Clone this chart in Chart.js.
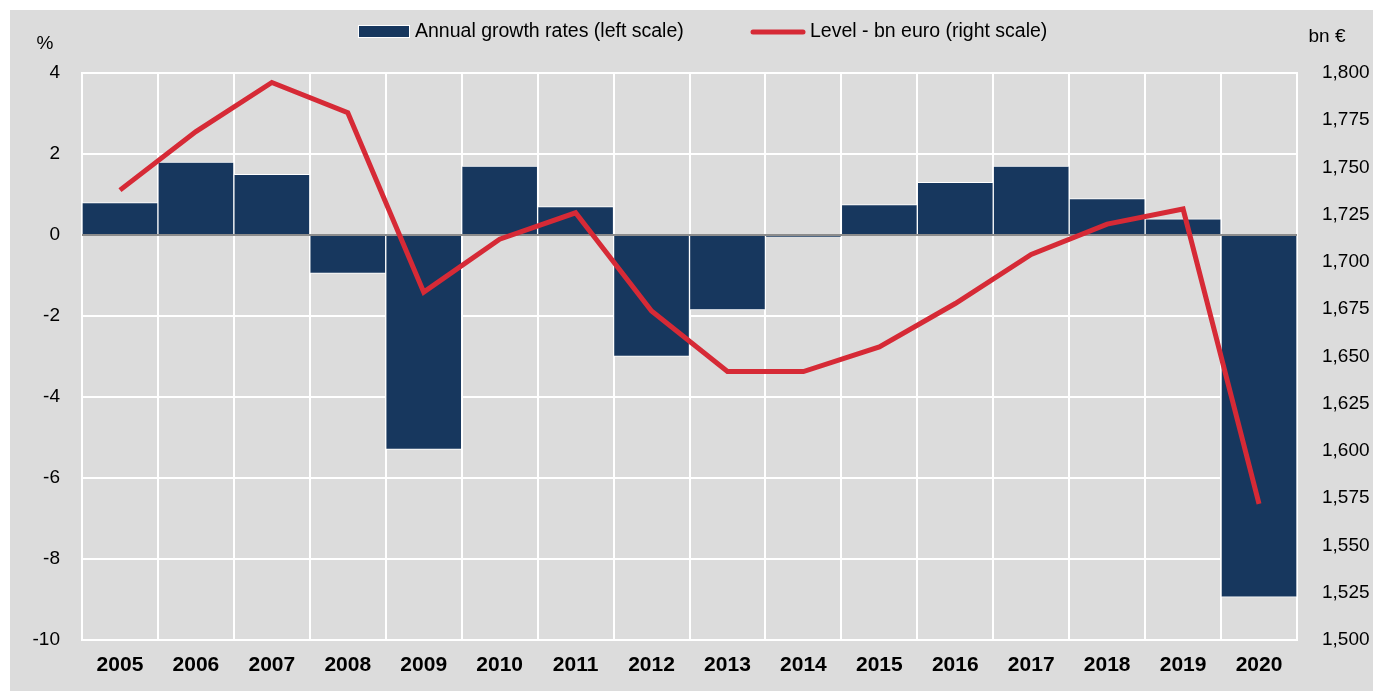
<!DOCTYPE html>
<html>
<head>
<meta charset="utf-8">
<script src="https://cdn.jsdelivr.net/npm/chart.js@4.4.1/dist/chart.umd.min.js"></script>
<style>
  body { margin: 0; background: #ffffff; }
  #wrap { position: absolute; left: 10px; top: 10px; width: 1363px; height: 681px; background: #dcdcdc; }
</style>
</head>
<body>
<div id="wrap"><canvas id="growthChart" width="1363" height="681"></canvas></div>
<script>
const years = ['2005', '2006', '2007', '2008', '2009', '2010', '2011', '2012', '2013', '2014', '2015', '2016', '2017', '2018', '2019', '2020'];
const growthRates = [0.8, 1.8, 1.5, -0.95, -5.3, 1.7, 0.7, -3.0, -1.85, -0.05, 0.75, 1.3, 1.7, 0.9, 0.4, -8.95];
const levelBn = [1738, 1769, 1795, 1779, 1684, 1712, 1726, 1674, 1642, 1642, 1655, 1678, 1704, 1720, 1728, 1572];

const FONT = "'Liberation Sans', Arial, sans-serif";
const NAVY = '#17375e';
const RED = '#d62a36';

// zero line between bars and the red line
const zeroLine = {
    id: 'zeroLine',
    afterDatasetDraw(chart, args) {
        if (args.index !== 0) return;
        const ctx = chart.ctx;
        const y0 = chart.scales.y.getPixelForValue(0);
        ctx.save();
        ctx.strokeStyle = '#8c8c8c';
        ctx.lineWidth = 2;
        ctx.beginPath();
        ctx.moveTo(chart.chartArea.left, y0);
        ctx.lineTo(chart.chartArea.right, y0);
        ctx.stroke();
        ctx.restore();
    }
};

// legend row and unit labels drawn above the plot
const topLabels = {
    id: 'topLabels',
    afterDraw(chart) {
        const ctx = chart.ctx;
        const area = chart.chartArea;
        const ds = chart.data.datasets;
        ctx.save();
        ctx.fillStyle = '#000';
        ctx.textBaseline = 'middle';

        // legend: bar swatch
        ctx.fillStyle = ds[0].backgroundColor;
        ctx.fillRect(348, 15, 52, 13);
        ctx.strokeStyle = '#ffffff';
        ctx.lineWidth = 1;
        ctx.strokeRect(348.5, 15.5, 51, 12);
        ctx.fillStyle = '#000';
        ctx.font = '19.5px ' + FONT;
        ctx.textAlign = 'left';
        ctx.fillText(ds[0].label, 405, 22);

        // legend: line swatch
        ctx.strokeStyle = ds[1].borderColor;
        ctx.lineWidth = 5;
        ctx.lineCap = 'round';
        ctx.beginPath();
        ctx.moveTo(743, 22);
        ctx.lineTo(793, 22);
        ctx.stroke();
        ctx.fillText(ds[1].label, 800, 22);

        ctx.font = '19px ' + FONT;
        ctx.textAlign = 'center';
        ctx.fillText('%', area.left - 37, area.top - 29);
        ctx.fillText('bn €', area.right + 30, area.top - 36);
        ctx.restore();
    }
};

const ctx = document.getElementById('growthChart').getContext('2d');
new Chart(ctx, {
    data: {
        labels: years,
        datasets: [
            {
                type: 'bar',
                label: 'Annual growth rates (left scale)',
                data: growthRates,
                yAxisID: 'y',
                backgroundColor: NAVY,
                borderColor: '#ffffff',
                borderWidth: 1,
                barPercentage: 1,
                categoryPercentage: 1,
                order: 2
            },
            {
                type: 'line',
                label: 'Level - bn euro (right scale)',
                data: levelBn,
                yAxisID: 'y2',
                borderColor: RED,
                backgroundColor: RED,
                borderWidth: 5,
                pointRadius: 0,
                tension: 0,
                order: 1
            }
        ]
    },
    options: {
        responsive: false,
        animation: false,
        layout: { padding: { top: 63, left: 0, right: 0, bottom: 0 } },
        plugins: {
            legend: { display: false },
            tooltip: { enabled: false }
        },
        scales: {
            x: {
                grid: { color: '#ffffff', lineWidth: 2, offset: true, drawTicks: false },
                border: { display: true, color: '#ffffff', width: 2 },
                ticks: { color: '#000', font: { family: FONT, size: 21, weight: 'bold' }, padding: 13 }
            },
            y: {
                position: 'left',
                min: -10,
                max: 4,
                ticks: { stepSize: 2, color: '#000', font: { family: FONT, size: 19 }, padding: 22 },
                grid: { color: '#ffffff', lineWidth: 2, drawTicks: false },
                border: { display: true, color: '#ffffff', width: 2 },
                afterFit(scale) { scale.width = 72; }
            },
            y2: {
                position: 'right',
                min: 1500,
                max: 1800,
                ticks: {
                    stepSize: 25,
                    color: '#000',
                    font: { family: FONT, size: 19 },
                    padding: 25,
                    callback: v => v.toLocaleString('en-US')
                },
                grid: { display: false, drawTicks: false },
                border: { display: true, color: '#ffffff', width: 2 },
                afterFit(scale) { scale.width = 76; }
            }
        }
    },
    plugins: [zeroLine, topLabels]
});
</script>
</body>
</html>
